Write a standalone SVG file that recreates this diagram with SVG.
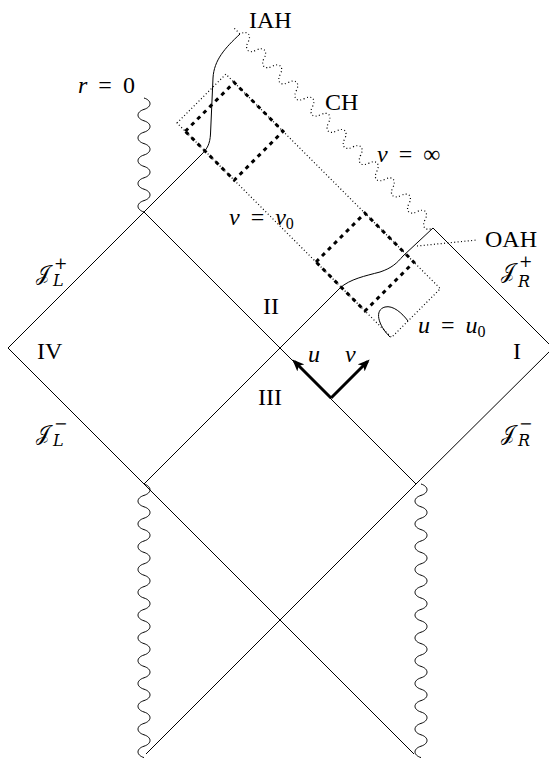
<svg xmlns="http://www.w3.org/2000/svg" width="549" height="758" viewBox="0 0 549 758">
  <style>
    .ln { fill: none; stroke: #000; stroke-width: 1; }
    .wave { fill: none; stroke: #000; stroke-width: 1; }
    .dot { fill: none; stroke: #000; stroke-width: 1.2; stroke-dasharray: 1 2.4; }
    .dash { fill: none; stroke: #000; stroke-width: 3; stroke-dasharray: 4 4.5; }
    .arr { fill: none; stroke: #000; stroke-width: 3; marker-end: url(#head); }
    text { font-family: "Liberation Serif", "DejaVu Serif", serif; font-size: 24px; fill: #000; }
    .it { font-style: italic; }
    .sm { font-size: 16px; }
    .scr { font-family: "DejaVu Serif", "DejaVu Sans", "Noto Sans", serif; font-size: 20px; }
  </style>
  <defs>
    <marker id="head" viewBox="0 0 12 10" refX="9" refY="5" markerWidth="12" markerHeight="10" markerUnits="userSpaceOnUse" orient="auto">
      <path d="M0 0 L12 5 L0 10 L3 5 z" fill="#000"/>
    </marker>
  </defs>

  <!-- null lines, horizons and singularities -->
  <g id="connectors">
    <!-- left diamond and inner horizon branch -->
    <path class="ln" d="M8 348 L202 154 C207 149 210 144 210.5 134 L213 78 C214 60 225 48 240 34"/>
    <path class="ln" d="M8 348 L144 484"/>
    <path class="ln" d="M144 212 L416 484"/>
    <!-- event horizon with outer apparent horizon -->
    <path class="ln" d="M144 484 L280 348 L340 288 C350 279 365 276 380 272 C392 268 397 263 403 256 L433 228"/>
    <!-- right diamond -->
    <path class="ln" d="M433 228 L553 348 L416 484"/>
    <!-- lower crossing -->
    <path class="ln" d="M144 484 L414 754"/>
    <path class="ln" d="M416 484 L146 754"/>

    <!-- r = 0 singularity -->
    <path class="wave" d="M144 212 c-8 -2.5 -8 -8.9 0 -11.4 c8 -2.5 8 -8.9 0 -11.4 c-8 -2.5 -8 -8.9 0 -11.4 c8 -2.5 8 -8.9 0 -11.4 c-8 -2.5 -8 -8.9 0 -11.4 c8 -2.5 8 -8.9 0 -11.4 c-8 -2.5 -8 -8.9 0 -11.4 c8 -2.5 8 -8.9 0 -11.4 c-8 -2.5 -8 -8.9 0 -11.4 c8 -2.5 8 -8.9 0 -11.4"/>
    <!-- lower singularities -->
    <path id="lower-left-singularity" class="wave" d="M144 484 c8 2.5 8 8.9 0 11.4 c-8 2.5 -8 8.9 0 11.4 c8 2.5 8 8.9 0 11.4 c-8 2.5 -8 8.9 0 11.4 c8 2.5 8 8.9 0 11.4 c-8 2.5 -8 8.9 0 11.4 c8 2.5 8 8.9 0 11.4 c-8 2.5 -8 8.9 0 11.4 c8 2.5 8 8.9 0 11.4 c-8 2.5 -8 8.9 0 11.4 c8 2.5 8 8.9 0 11.4 c-8 2.5 -8 8.9 0 11.4 c8 2.5 8 8.9 0 11.4 c-8 2.5 -8 8.9 0 11.4 c8 2.5 8 8.9 0 11.4 c-8 2.5 -8 8.9 0 11.4 c8 2.5 8 8.9 0 11.4 c-8 2.5 -8 8.9 0 11.4 c8 2.5 8 8.9 0 11.4 c-8 2.5 -8 8.9 0 11.4 c8 2.5 8 8.9 0 11.4 c-8 2.5 -8 8.9 0 11.4 c8 2.5 8 8.9 0 11.4 c-8 2.5 -8 8.9 0 11.4"/>
    <path id="lower-right-singularity" class="wave" d="M421 484 c8 2.5 8 8.9 0 11.4 c-8 2.5 -8 8.9 0 11.4 c8 2.5 8 8.9 0 11.4 c-8 2.5 -8 8.9 0 11.4 c8 2.5 8 8.9 0 11.4 c-8 2.5 -8 8.9 0 11.4 c8 2.5 8 8.9 0 11.4 c-8 2.5 -8 8.9 0 11.4 c8 2.5 8 8.9 0 11.4 c-8 2.5 -8 8.9 0 11.4 c8 2.5 8 8.9 0 11.4 c-8 2.5 -8 8.9 0 11.4 c8 2.5 8 8.9 0 11.4 c-8 2.5 -8 8.9 0 11.4 c8 2.5 8 8.9 0 11.4 c-8 2.5 -8 8.9 0 11.4 c8 2.5 8 8.9 0 11.4 c-8 2.5 -8 8.9 0 11.4 c8 2.5 8 8.9 0 11.4 c-8 2.5 -8 8.9 0 11.4 c8 2.5 8 8.9 0 11.4 c-8 2.5 -8 8.9 0 11.4 c8 2.5 8 8.9 0 11.4 c-8 2.5 -8 8.9 0 11.4"/>

    <!-- Cauchy horizon, dotted wave -->
    <path class="dot" transform="translate(240 34) rotate(45.1)" d="M-8 0 L0 0 c2.5 -8 8.9 -8 11.4 0 c2.5 8 8.9 8 11.4 0 c2.5 -8 8.9 -8 11.4 0 c2.5 8 8.9 8 11.4 0 c2.5 -8 8.9 -8 11.4 0 c2.5 8 8.9 8 11.4 0 c2.5 -8 8.9 -8 11.4 0 c2.5 8 8.9 8 11.4 0 c2.5 -8 8.9 -8 11.4 0 c2.5 8 8.9 8 11.4 0 c2.5 -8 8.9 -8 11.4 0 c2.5 8 8.9 8 11.4 0 c2.5 -8 8.9 -8 11.4 0 c2.5 8 8.9 8 11.4 0 c2.5 -8 8.9 -8 11.4 0 c2.5 8 8.9 8 11.4 0 c2.5 -8 8.9 -8 11.4 0 c2.5 8 8.9 8 11.4 0 c2.5 -8 8.9 -8 11.4 0 c2.5 8 8.9 8 11.4 0 c2.5 -8 8.9 -8 11.4 0 c2.5 8 8.9 8 11.4 0 c2.5 -8 8.9 -8 11.4 0 c2.5 8 8.9 8 11.4 0"/>

    <!-- integration region and cells -->
    <polygon class="dot" points="177,123 225.85,74.15 440.35,288.65 391.5,337.5"/>
    <polygon class="dash" points="185.3,131.3 234.15,82.45 283,131.3 234.2,180.2"/>
    <polygon class="dash" points="316,262 364.85,213.15 413.85,262.15 365,311"/>

    <!-- u = u0 ray -->
    <path class="ln" d="M390 337 C378 325 374 310 385 307 C393 305 402 313 408 321"/>
    <!-- OAH pointer -->
    <path class="dot" d="M417 246 L477 240"/>

    <!-- coordinate arrows -->
    <line class="arr" x1="331" y1="398" x2="294.5" y2="361.5"/>
    <line class="arr" x1="331" y1="398" x2="367.5" y2="361.5"/>
  </g>

  <!-- labels -->
  <g id="label-IAH"><text x="249" y="28">IAH</text></g>
  <g id="label-CH"><text x="325" y="110">CH</text></g>
  <g id="label-OAH"><text x="485" y="247">OAH</text></g>
  <g id="label-r0"><text x="78" y="93" word-spacing="5"><tspan class="it">r</tspan> = 0</text></g>
  <g id="label-vinf"><text x="377" y="162" word-spacing="5"><tspan class="it">v</tspan> = ∞</text></g>
  <g id="label-v0"><text x="229" y="225" word-spacing="5"><tspan class="it">v</tspan> = <tspan class="it">v</tspan><tspan class="sm" dy="4">0</tspan></text></g>
  <g id="label-u0"><text x="418" y="333" word-spacing="5"><tspan class="it">u</tspan> = <tspan class="it">u</tspan><tspan class="sm" dy="4">0</tspan></text></g>
  <g id="label-u"><text class="it" x="308" y="362">u</text></g>
  <g id="label-v"><text class="it" x="345" y="362">v</text></g>

  <g id="region-I"><text x="513" y="359">I</text></g>
  <g id="region-II"><text x="263" y="314">II</text></g>
  <g id="region-III"><text x="258" y="405">III</text></g>
  <g id="region-IV"><text x="37" y="359">IV</text></g>

  <g id="scri-L-plus"><text class="scr" x="36" y="280">𝒥<tspan class="sm" x="54" y="269">+</tspan><tspan class="sm it" x="53" y="286">L</tspan></text></g>
  <g id="scri-L-minus"><text class="scr" x="36" y="440">𝒥<tspan class="sm" x="54" y="429">−</tspan><tspan class="sm it" x="53" y="446">L</tspan></text></g>
  <g id="scri-R-plus"><text class="scr" x="501" y="278">𝒥<tspan class="sm" x="519" y="267">+</tspan><tspan class="sm it" x="518" y="287">R</tspan></text></g>
  <g id="scri-R-minus"><text class="scr" x="501" y="440">𝒥<tspan class="sm" x="519" y="429">−</tspan><tspan class="sm it" x="518" y="446">R</tspan></text></g>
</svg>
